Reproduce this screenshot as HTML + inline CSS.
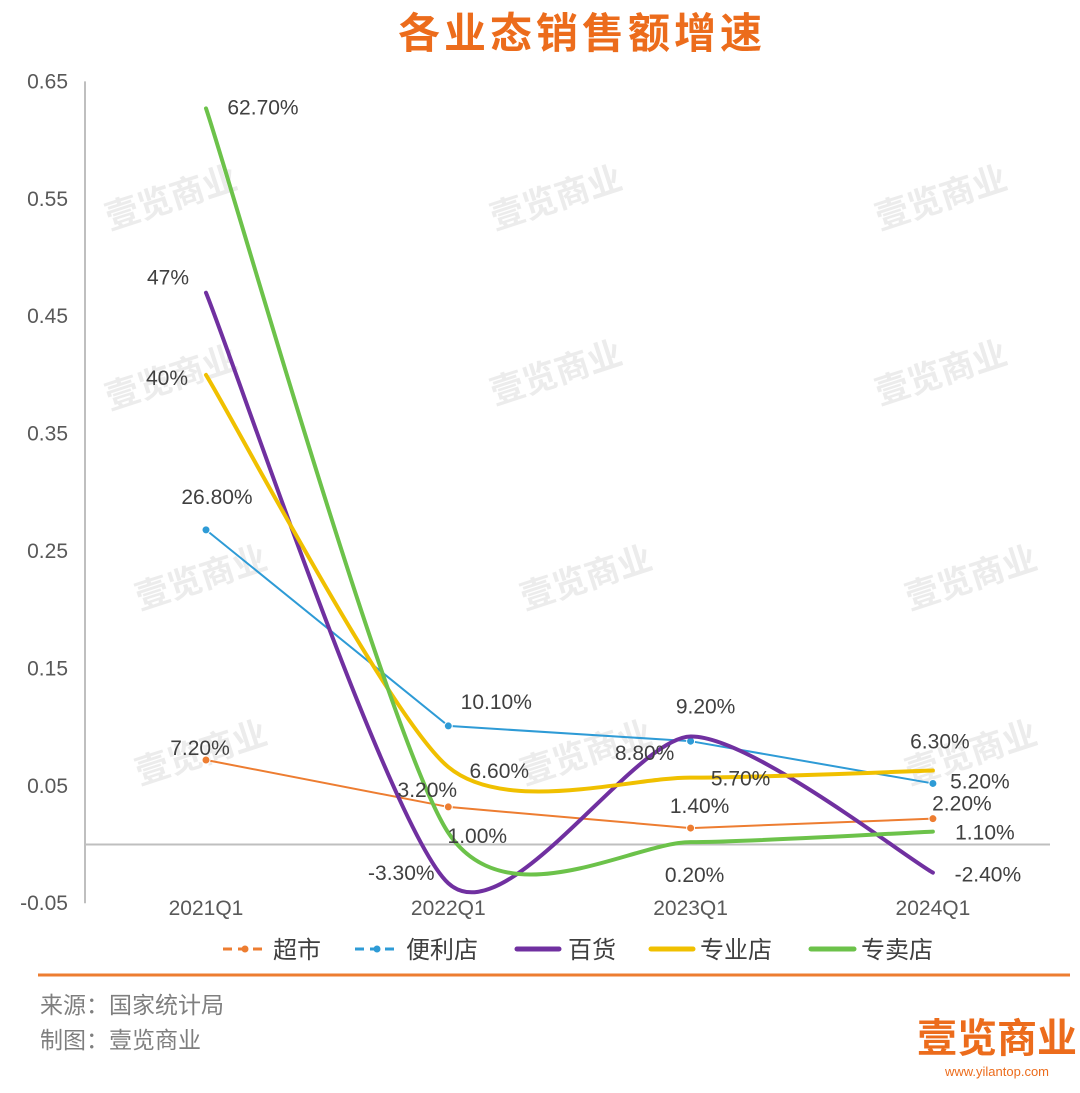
<!DOCTYPE html>
<html><head><meta charset="utf-8">
<style>
html,body{margin:0;padding:0;background:#fff;}
body{width:1080px;height:1088px;overflow:hidden;font-family:"Liberation Sans","Noto Sans CJK SC",sans-serif;}
svg text{font-family:"Liberation Sans","Noto Sans CJK SC",sans-serif;}
</style></head>
<body>
<svg id="chart" width="1080" height="1088" viewBox="0 0 1080 1088" xmlns="http://www.w3.org/2000/svg">
  <text x="582" y="48" text-anchor="middle" font-size="42" font-weight="bold" fill="#ec6c1c" style="font-family:'Noto Sans CJK SC',sans-serif;letter-spacing:4px">各业态销售额增速</text>
  <g id="watermarks" fill="#ececec" font-size="34" font-weight="bold" style="font-family:'Noto Sans CJK SC',sans-serif">
    <text transform="translate(110,230) rotate(-18)">壹览商业</text>
    <text transform="translate(495,230) rotate(-18)">壹览商业</text>
    <text transform="translate(880,230) rotate(-18)">壹览商业</text>
    <text transform="translate(110,410) rotate(-18)">壹览商业</text>
    <text transform="translate(495,405) rotate(-18)">壹览商业</text>
    <text transform="translate(880,405) rotate(-18)">壹览商业</text>
    <text transform="translate(140,610) rotate(-18)">壹览商业</text>
    <text transform="translate(525,610) rotate(-18)">壹览商业</text>
    <text transform="translate(910,610) rotate(-18)">壹览商业</text>
    <text transform="translate(140,785) rotate(-18)">壹览商业</text>
    <text transform="translate(525,785) rotate(-18)">壹览商业</text>
    <text transform="translate(910,785) rotate(-18)">壹览商业</text>
  </g>
  <g id="axes"></g>
  <g id="series"></g>
  <g id="labels"></g>
  <g id="legend" font-size="24" fill="#404040" style="font-family:'Noto Sans CJK SC',sans-serif">
    <g>
      <line x1="223" y1="949" x2="267" y2="949" stroke="#ed7d31" stroke-width="3" stroke-dasharray="9,6"/>
      <circle cx="245" cy="949" r="3.5" fill="#ed7d31"/>
      <text x="273" y="958">超市</text></g>
    <g>
      <line x1="355" y1="949" x2="400" y2="949" stroke="#2e9bd6" stroke-width="3" stroke-dasharray="9,6"/>
      <circle cx="377" cy="949" r="3.5" fill="#2e9bd6"/>
      <text x="406" y="958">便利店</text></g>
    <g>
      <line x1="517" y1="949" x2="559" y2="949" stroke="#7030a0" stroke-width="5" stroke-linecap="round"/>
      <text x="568" y="958">百货</text></g>
    <g>
      <line x1="651" y1="949" x2="693" y2="949" stroke="#f0c000" stroke-width="5" stroke-linecap="round"/>
      <text x="700" y="958">专业店</text></g>
    <g>
      <line x1="811" y1="949" x2="854" y2="949" stroke="#6cc24a" stroke-width="5" stroke-linecap="round"/>
      <text x="861" y="958">专卖店</text></g>
  </g>
  <line x1="38" y1="975" x2="1070" y2="975" stroke="#ed7d31" stroke-width="3"/>
  <text x="40" y="1013" font-size="23" fill="#7f7f7f" style="font-family:'Noto Sans CJK SC',sans-serif">来源：国家统计局</text>
  <text x="40" y="1048" font-size="23" fill="#7f7f7f" style="font-family:'Noto Sans CJK SC',sans-serif">制图：壹览商业</text>
  <text x="997" y="1052" text-anchor="middle" font-size="40" font-weight="bold" fill="#ec6c1c" style="font-family:'Noto Sans CJK SC',sans-serif">壹览商业</text>
  <text x="997" y="1076" text-anchor="middle" font-size="13" fill="#ec6c1c">www.yilantop.com</text>
</svg>
<script>
const categories = ["2021Q1","2022Q1","2023Q1","2024Q1"];
const yTicks = [-0.05,0.05,0.15,0.25,0.35,0.45,0.55,0.65];
const yTickLabels = ["-0.05","0.05","0.15","0.25","0.35","0.45","0.55","0.65"];
const superValues = [0.072,0.032,0.014,0.022];
const convValues = [0.268,0.101,0.088,0.052];
const deptValues = [0.47,-0.033,0.092,-0.024];
const specValues = [0.40,0.066,0.057,0.063];
const brandValues = [0.627,0.010,0.002,0.011];
const superLabels = ["7.20%","3.20%","1.40%","2.20%"];
const convLabels = ["26.80%","10.10%","8.80%","5.20%"];
const deptLabels = ["47%","-3.30%","9.20%","-2.40%"];
const specLabels = ["40%","6.60%","5.70%","6.30%"];
const brandLabels = ["62.70%","1.00%","0.20%","1.10%"];

const NS="http://www.w3.org/2000/svg";
function xPos(i){return 206 + i*242.3;}
function yPos(v){return 844.5 - v*1174;}
function mk(tag,attrs,parent){const e=document.createElementNS(NS,tag);for(const k in attrs)e.setAttribute(k,attrs[k]);parent.appendChild(e);return e;}

const axes=document.getElementById('axes');
const yAxis=mk('line',{x1:85,y1:yPos(0.65),x2:85,y2:yPos(-0.05),stroke:'#bfbfbf','stroke-width':2},axes);


const xAxis=mk('line',{x1:85,y1:yPos(0),x2:1050,y2:yPos(0),stroke:'#bfbfbf','stroke-width':2},axes);


yTicks.forEach((t,i)=>{
  const tx=mk('text',{x:68,y:yPos(t)+7,'text-anchor':'end','font-size':21,fill:'#595959'},axes);
  tx.textContent=yTickLabels[i];
  
  
});
categories.forEach((c,i)=>{
  const tx=mk('text',{x:xPos(i),y:915,'text-anchor':'middle','font-size':21,fill:'#595959'},axes);
  tx.textContent=c;
  
  
});

function smoothPath(vals){
  const p=vals.map((v,i)=>[xPos(i),yPos(v)]);
  let d=`M${p[0][0]},${p[0][1]}`;
  for(let i=0;i<p.length-1;i++){
    const p0=p[i-1]||p[i],p1=p[i],p2=p[i+1],p3=p[i+2]||p[i+1];
    const t=0.12;
    const c1=[p1[0]+(p2[0]-p0[0])*t,p1[1]+(p2[1]-p0[1])*t];
    const c2=[p2[0]-(p3[0]-p1[0])*t,p2[1]-(p3[1]-p1[1])*t];
    d+=` C${c1[0]},${c1[1]} ${c2[0]},${c2[1]} ${p2[0]},${p2[1]}`;
  }
  return d;
}
function linePath(vals){return vals.map((v,i)=>(i?'L':'M')+xPos(i)+','+yPos(v)).join(' ');}

const series=document.getElementById('series');
function drawSeries(vals,color,smooth,dashed,name){
  const g=mk('g',{},series);
  
  
  const path=mk('path',{d:smooth?smoothPath(vals):linePath(vals),fill:'none',stroke:color,'stroke-width':dashed?2:4,'stroke-linecap':'round'},g);
  
  
  if(dashed){
    vals.forEach((v,i)=>{
      const c=mk('circle',{cx:xPos(i),cy:yPos(v),r:4,fill:color,stroke:'#fff','stroke-width':1},g);
      
      
    });
  }
}
drawSeries(superValues,'#ed7d31',false,true,'supermarket-series');
drawSeries(convValues,'#2e9bd6',false,true,'convenience-series');
drawSeries(deptValues,'#7030a0',true,false,'department-series');
drawSeries(specValues,'#f0c000',true,false,'specialty-series');
drawSeries(brandValues,'#6cc24a',true,false,'brand-store-series');

// label offsets relative to data point (style, not data)
const superOff=[[-6,-12],[-21,-17],[9,-22],[29,-15]];
const convOff=[[11,-33],[48,-24],[-46,12],[47,-2]];
const deptOff=[[-38,-15],[-47,-10],[15,-30],[55,2]];
const specOff=[[-39,3],[51,4],[50,1],[7,-29]];
const brandOff=[[57,-1],[29,3],[4,33],[52,1]];
const labels=document.getElementById('labels');
function drawLabels(vals,txts,offs,name){
  vals.forEach((v,i)=>{
    const t=mk('text',{x:xPos(i)+offs[i][0],y:yPos(v)+offs[i][1]+7,'text-anchor':'middle','font-size':21,fill:'#404040'},labels);
    t.textContent=txts[i];
    
    
  });
}
drawLabels(superValues,superLabels,superOff,'supermarket');
drawLabels(convValues,convLabels,convOff,'convenience');
drawLabels(deptValues,deptLabels,deptOff,'department');
drawLabels(specValues,specLabels,specOff,'specialty');
drawLabels(brandValues,brandLabels,brandOff,'brand-store');
</script>
</body></html>
